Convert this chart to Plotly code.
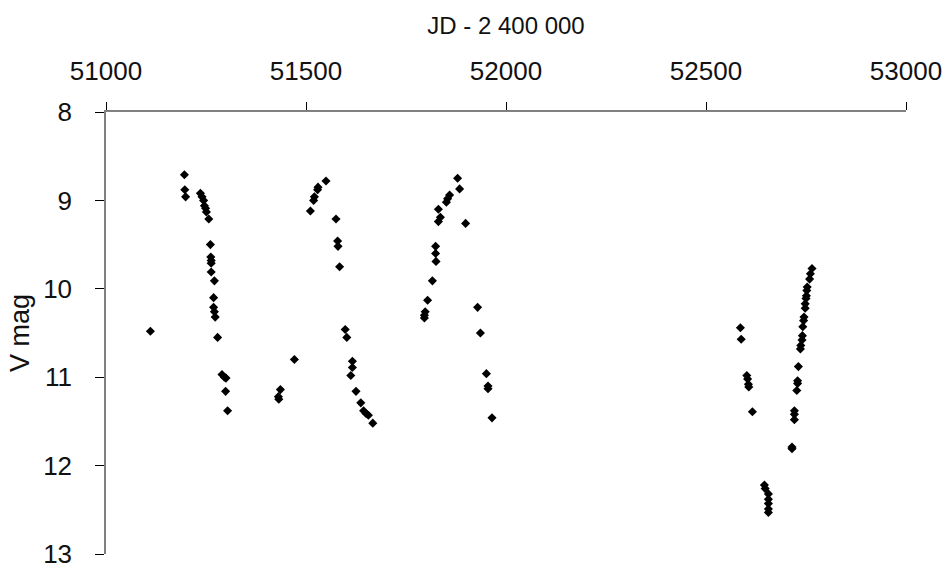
import plotly.graph_objects as go

# V-band light curve, observations grouped by season
jd_s1 = [51111, 51196, 51197, 51199, 51236, 51240, 51244, 51246, 51249, 51251,
         51257, 51261, 51262, 51263, 51263, 51263, 51271, 51269, 51269, 51271,
         51273, 51279, 51290, 51296, 51300, 51299, 51304]
mag_s1 = [10.48, 8.71, 8.88, 8.96, 8.92, 8.96, 9.00, 9.06, 9.09, 9.13,
          9.21, 9.50, 9.64, 9.68, 9.71, 9.81, 9.91, 10.10, 10.21, 10.26,
          10.32, 10.55, 10.97, 11.00, 11.01, 11.16, 11.38]

jd_s2 = [51431, 51432, 51436, 51471, 51511, 51519, 51521, 51529, 51530, 51550,
         51575, 51579, 51580, 51584, 51598, 51602, 51612, 51616, 51616, 51625,
         51637, 51644, 51650, 51656, 51667]
mag_s2 = [11.22, 11.25, 11.14, 10.80, 9.12, 9.00, 8.96, 8.88, 8.85, 8.78,
          9.21, 9.46, 9.52, 9.75, 10.46, 10.55, 10.98, 10.82, 10.89, 11.16,
          11.29, 11.38, 11.41, 11.43, 11.52]

jd_s3 = [51796, 51796, 51798, 51804, 51816, 51824, 51824, 51825, 51831, 51831,
         51836, 51851, 51854, 51859, 51879, 51884, 51899, 51929, 51936, 51951,
         51955, 51955, 51965]
mag_s3 = [10.30, 10.33, 10.26, 10.13, 9.91, 9.52, 9.60, 9.69, 9.10, 9.24,
          9.19, 9.02, 8.98, 8.94, 8.75, 8.87, 9.26, 10.21, 10.50, 10.96,
          11.10, 11.13, 11.46]

jd_s4 = [52586, 52588, 52602, 52604, 52606, 52607, 52616, 52646, 52648, 52656,
         52656, 52656, 52656, 52656, 52715, 52715, 52721, 52721, 52721, 52727,
         52729, 52729, 52731, 52736, 52737, 52740, 52741, 52742, 52744, 52745,
         52748, 52748, 52750, 52751, 52752, 52753, 52759, 52761, 52765]
mag_s4 = [10.44, 10.57, 10.98, 11.02, 11.08, 11.11, 11.39, 12.22, 12.26, 12.32,
          12.38, 12.43, 12.49, 12.53, 11.79, 11.81, 11.38, 11.42, 11.48, 11.15,
          11.07, 11.04, 10.88, 10.68, 10.64, 10.58, 10.53, 10.43, 10.36, 10.32,
          10.22, 10.17, 10.11, 10.08, 10.02, 9.98, 9.89, 9.83, 9.77]

jd = jd_s1 + jd_s2 + jd_s3 + jd_s4
vmag = mag_s1 + mag_s2 + mag_s3 + mag_s4

x_ticks = [51000, 51500, 52000, 52500, 53000]
y_ticks = [8, 9, 10, 11, 12, 13]

FONT = "Liberation Sans, Arial, sans-serif"

fig = go.Figure(
    go.Scatter(
        x=jd, y=vmag, mode="markers",
        marker=dict(symbol="diamond", size=7, color="black", line=dict(width=0)),
        showlegend=False,
    )
)

fig.update_layout(
    width=948, height=569,
    margin=dict(l=106, r=42, t=112, b=15),
    paper_bgcolor="white", plot_bgcolor="white",
    font=dict(family=FONT, size=26, color="#111111"),
)

fig.update_xaxes(
    side="top", range=[51000, 53000], automargin=False,
    tickvals=x_ticks, ticktext=[str(v) for v in x_ticks],
    ticks="outside", ticklen=8, tickwidth=1, tickcolor="black",
    ticklabelstandoff=12, ticklabeloverflow="allow",
    showline=True, linecolor="#808080", linewidth=1.5,
    showgrid=False, zeroline=False,
    title=dict(text="JD - 2 400 000", font=dict(size=24), standoff=14),
)

fig.update_yaxes(
    range=[13, 8], automargin=False,
    tickvals=y_ticks, ticktext=[str(v) for v in y_ticks],
    ticks="outside", ticklen=9, tickwidth=1, tickcolor="black",
    ticklabelstandoff=18, ticklabeloverflow="allow",
    showline=True, linecolor="#808080", linewidth=1.5,
    showgrid=False, zeroline=False,
    title=dict(text="V mag", font=dict(size=27), standoff=6),
)

fig.write_html("out.html")
